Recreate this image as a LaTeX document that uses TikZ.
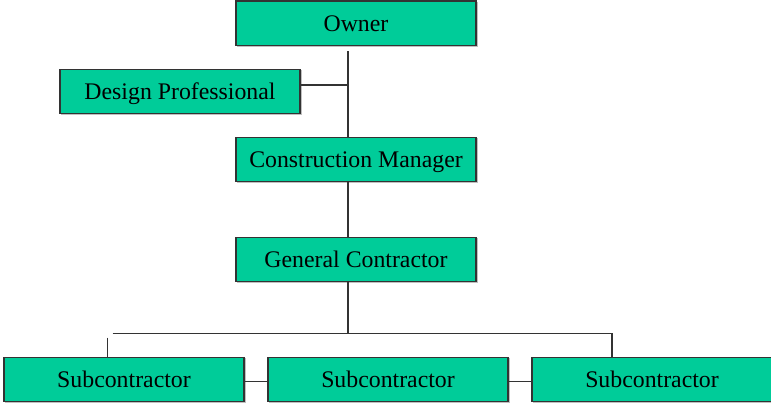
\documentclass[tikz,border=0pt]{standalone}
\usepackage{fontspec}
\setmainfont{Liberation Serif}
\begin{document}
\begin{tikzpicture}[x=1pt,y=-1pt,
  orgbox/.style={draw=black!80, line width=1.3pt, fill=boxgreen,
    minimum width=240pt, minimum height=44.5pt, inner sep=0pt,
    text height=15.7pt, text depth=0pt,
    font=\fontsize{23.8}{26}\selectfont},
  link/.style={draw=black!80, line width=1.4pt}]
\definecolor{boxgreen}{RGB}{0,204,153}
\useasboundingbox (0,0) rectangle (771,402);

% boxes (soft gray drop edge on the right and bottom)
\foreach \cx/\cy in {356/23.25,180/91.5,356/159.5,356/259.5,124/379.5,388/379.5,652/379.5}
  \fill[black!25] (\cx-119,\cy-21.5) rectangle (\cx+121.5,\cy+23.8);

\node[orgbox] (owner) at (356,23.25) {Owner};
\node[orgbox] (dp)    at (180,91.5)  {Design Professional};
\node[orgbox] (cm)    at (356,159.5) {Construction Manager};
\node[orgbox] (gc)    at (356,259.5) {General Contractor};
\node[orgbox] (s1)    at (124,379.5) {Subcontractor};
\node[orgbox] (s2)    at (388,379.5) {Subcontractor};
\node[orgbox] (s3)    at (652,379.5) {Subcontractor};

% spine and branch points
\coordinate (ownerstub) at (348,51);
\coordinate (dpjoin)    at (348,85);
\coordinate (gcjoin)    at (348,333.3);
\coordinate (barleft)   at (112.7,333.3);
\coordinate (barright)  at (612,333.3);
\coordinate (dropleft)  at (107.7,337.5);

\draw[link] (ownerstub) -- (ownerstub |- cm.north);
\draw[link] (dp.east |- dpjoin) -- (dpjoin);
\draw[link] (cm.south -| ownerstub) -- (gc.north -| ownerstub);
\draw[link] (gc.south -| ownerstub) -- (gcjoin);
\draw[link] (barleft) -- (barright);
\draw[link] (dropleft) -- (dropleft |- s1.north);
\draw[link] (barright) -- (barright |- s3.north);
\draw[link] (s1.east |- 0,381.7) -- (s2.west |- 0,381.7);
\draw[link] (s2.east |- 0,381.7) -- (s3.west |- 0,381.7);
\end{tikzpicture}
\end{document}
